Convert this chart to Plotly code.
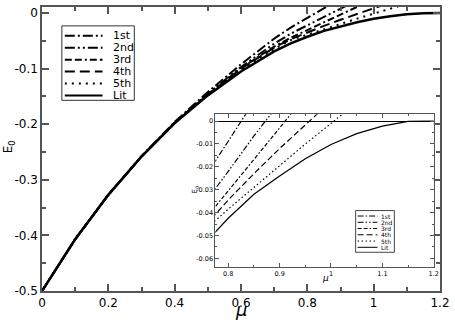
import plotly.graph_objects as go

# screening parameter mu and ground-state energies E0
mu = [0.0, 0.1, 0.2, 0.3, 0.4, 0.5, 0.6, 0.7, 0.75, 0.8, 0.85, 0.9,
      0.95, 1.0, 1.05, 1.1, 1.15, 1.2]

lit = [-0.5, -0.407, -0.327, -0.258, -0.198, -0.148, -0.105, -0.069, -0.0545,
       -0.0425, -0.032, -0.024, -0.0165, -0.0102, -0.0055, -0.0022, -0.0001, 0.0]
first = [-0.5, -0.407, -0.327, -0.2575, -0.1958, -0.142, -0.092, -0.046, -0.026,
         -0.0088, 0.008, 0.026, None, None, None, None, None, None]
second = [-0.5, -0.407, -0.327, -0.2579, -0.197, -0.145, -0.097, -0.055, -0.037,
          -0.022, -0.0065, 0.008, 0.023, None, None, None, None, None]
third = [-0.5, -0.407, -0.327, -0.258, -0.1975, -0.1465, -0.099, -0.0602, -0.0442,
         -0.0305, -0.017, -0.003, 0.011, 0.025, None, None, None, None]
fourth = [-0.5, -0.407, -0.327, -0.258, -0.198, -0.147, -0.1, -0.062, -0.047,
          -0.0345, -0.023, -0.012, -0.0015, 0.009, 0.019, None, None, None]
fifth = [-0.5, -0.407, -0.327, -0.258, -0.198, -0.1475, -0.102, -0.0645, -0.0485,
         -0.0385, -0.029, -0.0195, -0.01, -0.001, 0.008, 0.017, None, None]

names = ['1st', '2nd', '3rd', '4th', '5th', 'Lit']
series = [first, second, third, fourth, fifth, lit]
dashes = ['10px,3px,2px,3px', '10px,3px,2px,3px,2px,3px', '7px,3px,7px,3px,2px,3px',
          '10px,5px', '2px,5px', 'solid']
inset_dashes = ['6px,2px,1.5px,2px', '6px,2px,1.5px,2px,1.5px,2px', '4px,2px,4px,2px,1.5px,2px',
                '6px,3px', '1.5px,2.5px', 'solid']

x_ticks = [0, 0.2, 0.4, 0.6, 0.8, 1.0, 1.2]
x_labels = ['0', '0.2', '0.4', '0.6', '0.8', '1', '1.2']
y_ticks = [0, -0.1, -0.2, -0.3, -0.4, -0.5]
y_labels = ['0', '-0.1', '-0.2', '-0.3', '-0.4', '-0.5']
ix_ticks = [0.8, 0.9, 1.0, 1.1, 1.2]
ix_labels = ['0.8', '0.9', '1', '1.1', '1.2']
iy_ticks = [0, -0.01, -0.02, -0.03, -0.04, -0.05, -0.06]
iy_labels = ['0', '-0.01', '-0.02', '-0.03', '-0.04', '-0.05', '-0.06']

FONT = 'DejaVu Sans'
AX = '#555'


# pixel -> paper helpers (plot area 42..443 x 5..291)
def px(x):
    return (x - 42) / 401


def py(y):
    return (291 - y) / 286


fig = go.Figure()

for name, ys, d in zip(names, series, dashes):
    fig.add_trace(go.Scatter(x=mu, y=ys, mode='lines', name=name, showlegend=False,
                             line=dict(color='black', width=2.5 if name == 'Lit' else 2, dash=d),
                             xaxis='x', yaxis='y'))

for name, ys, d in zip(names, series, inset_dashes):
    fig.add_trace(go.Scatter(x=mu, y=ys, mode='lines', name=name, showlegend=False,
                             line=dict(color='black', width=1.2, dash=d),
                             xaxis='x2', yaxis='y2'))

shapes = []
annotations = []

# main legend
shapes.append(dict(type='rect', xref='paper', yref='paper', x0=px(62), x1=px(135),
                   y0=py(99), y1=py(24), line=dict(color='#333', width=1), fillcolor='white',
                   layer='below'))
for i, (name, d) in enumerate(zip(names, dashes)):
    yy = py(34 + 12 * i)
    shapes.append(dict(type='line', xref='paper', yref='paper', x0=px(65), x1=px(103),
                       y0=yy, y1=yy, line=dict(color='black', width=2, dash=d)))
    annotations.append(dict(text=name, xref='paper', yref='paper', x=px(112), y=yy,
                            xanchor='left', yanchor='middle', showarrow=False,
                            font=dict(family=FONT, size=11, color='black')))

# inset legend
shapes.append(dict(type='rect', xref='paper', yref='paper', x0=px(358), x1=px(397),
                   y0=py(252), y1=py(210), line=dict(color='#444', width=1), fillcolor='white'))
for i, (name, d) in enumerate(zip(names, inset_dashes)):
    yy = py(215.5 + 6.3 * i)
    shapes.append(dict(type='line', xref='paper', yref='paper', x0=px(360), x1=px(380),
                       y0=yy, y1=yy, line=dict(color='black', width=1, dash=d)))
    annotations.append(dict(text=name, xref='paper', yref='paper', x=px(381.5), y=yy,
                            xanchor='left', yanchor='middle', showarrow=False,
                            font=dict(family=FONT, size=6, color='black')))

# axis titles
annotations.append(dict(text='<i>μ</i>', xref='paper', yref='paper', x=px(242.5), y=py(310),
                        xanchor='center', yanchor='middle', showarrow=False,
                        font=dict(family=FONT, size=18, color='black')))
annotations.append(dict(text='E<sub>0</sub>', xref='paper', yref='paper', x=px(9), y=py(146),
                        xanchor='center', yanchor='middle', showarrow=False, textangle=-90,
                        font=dict(family=FONT, size=12, color='black')))
annotations.append(dict(text='<i>μ</i>', xref='paper', yref='paper', x=px(328), y=py(278),
                        xanchor='center', yanchor='middle', showarrow=False,
                        font=dict(family=FONT, size=9, color='black')))
annotations.append(dict(text='E<sub>0</sub>', xref='paper', yref='paper', x=px(196), y=py(189),
                        xanchor='center', yanchor='middle', showarrow=False, textangle=-90,
                        font=dict(family=FONT, size=7, color='black')))

fig.update_layout(
    width=455, height=320,
    margin=dict(l=42, r=12, t=5, b=29),
    paper_bgcolor='white', plot_bgcolor='white',
    showlegend=False,
    font=dict(family=FONT, color='black'),
    shapes=shapes, annotations=annotations,
    xaxis=dict(range=[0, 1.2], domain=[0, 1], anchor='y', showgrid=False, zeroline=False,
               tickmode='array', tickvals=x_ticks, ticktext=x_labels,
               ticks='inside', ticklen=7, tickwidth=1.5, tickcolor=AX,
               minor=dict(tickmode='linear', tick0=0, dtick=0.1, ticks='inside',
                          ticklen=4, tickwidth=1.5, tickcolor=AX),
               showline=True, linecolor=AX, linewidth=1.5, mirror='ticks',
               tickfont=dict(size=12, family=FONT)),
    yaxis=dict(range=[-0.5, 0.011], domain=[0, 1], anchor='x', showgrid=False, zeroline=False,
               tickmode='array', tickvals=y_ticks, ticktext=y_labels,
               ticks='inside', ticklen=7, tickwidth=1.5, tickcolor=AX,
               minor=dict(tickmode='linear', tick0=0, dtick=0.05, ticks='inside',
                          ticklen=4, tickwidth=1.5, tickcolor=AX),
               showline=True, linecolor=AX, linewidth=1.5, mirror='ticks',
               tickfont=dict(size=12, family=FONT)),
    xaxis2=dict(range=[0.775, 1.2], domain=[px(216.7), px(436.7)], anchor='y2',
                showgrid=False, zeroline=False,
                tickmode='array', tickvals=ix_ticks, ticktext=ix_labels,
                ticks='inside', ticklen=4, tickwidth=1, tickcolor=AX,
                minor=dict(tickmode='linear', tick0=0.75, dtick=0.05, ticks='inside',
                           ticklen=2, tickwidth=1, tickcolor=AX),
                showline=True, linecolor=AX, linewidth=1, mirror='ticks',
                tickfont=dict(size=6.5, family=FONT)),
    yaxis2=dict(range=[-0.064, 0.003], domain=[py(267.3), py(113)], anchor='x2',
                showgrid=False, zeroline=True, zerolinecolor='black', zerolinewidth=1,
                tickmode='array', tickvals=iy_ticks, ticktext=iy_labels,
                ticks='inside', ticklen=4, tickwidth=1, tickcolor=AX,
                minor=dict(tickmode='linear', tick0=0, dtick=0.005, ticks='inside',
                           ticklen=2, tickwidth=1, tickcolor=AX),
                showline=True, linecolor=AX, linewidth=1, mirror='ticks',
                tickfont=dict(size=6.5, family=FONT)),
)

# the page's default 8px body margin would shift the figure
fig.write_html("out.html", config={'displayModeBar': False},
               post_script="document.body.style.margin='0';")
